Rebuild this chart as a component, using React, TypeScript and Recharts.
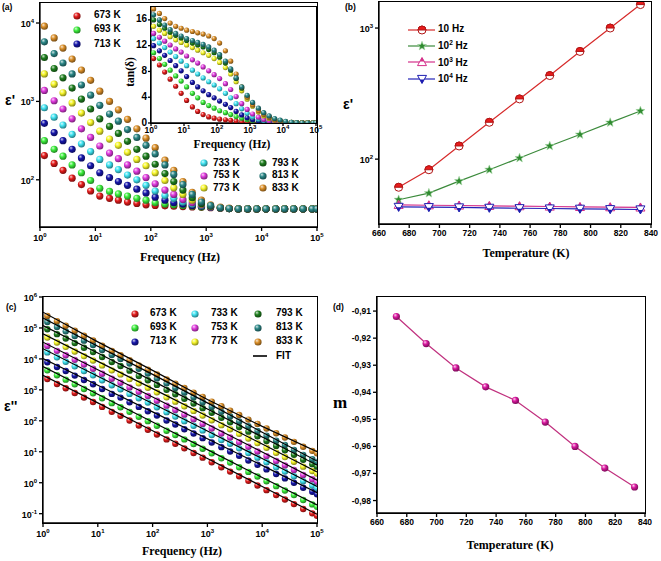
import React from "react";
import { ScatterChart, Scatter, XAxis, YAxis } from "recharts";

// temperatures shared by the four panels
const tempLabels = ["673 K", "693 K", "713 K", "733 K", "753 K", "773 K", "793 K", "813 K", "833 K"];
const tempIds = ["t673", "t693", "t713", "t733", "t753", "t773", "t793", "t813", "t833"];
const tempKelvin = [673, 693, 713, 733, 753, 773, 793, 813, 833];
const tempColors = ["#e31b1b", "#3cee3c", "#1616aa", "#40e4f2", "#e03ade", "#f6f62a", "#1e7f1e", "#2a8686", "#da8e27"];

// measurement frequencies (Hz) for panels (a) and (c)
const freqHz = [
  1.2, 1.8, 2.6, 3.8, 5.6, 8.2, 12, 18, 26, 38, 56, 82, 120, 180, 260, 380, 560, 820,
  1200, 1800, 2600, 3800, 5600, 8200, 12000, 18000, 26000, 38000, 56000, 82000, 100000,
];

// (a) real permittivity eps'
const epsReal673 = [204, 162, 132, 105, 87, 72, 62, 58, 55, 52, 50, 48, 47, 46.5, 46, 45.5, 45, 44.5, 44, 43.5, 43, 42.5, 42.5, 42.5, 42.5, 42.5, 42.5, 42.5, 42.5, 42.5, 42.5];
const epsReal693 = [316, 245, 200, 155, 123, 98, 78, 71, 66, 62, 58, 55, 51, 49, 48, 47, 46, 45, 44.5, 44, 43, 42.5, 42.5, 42.5, 42.5, 42.5, 42.5, 42.5, 42.5, 42.5, 42.5];
const epsReal713 = [525, 400, 316, 245, 190, 151, 123, 107, 95, 85, 76, 68, 60, 55, 51, 49, 47, 46, 45, 44, 43, 42.5, 42.5, 42.5, 42.5, 42.5, 42.5, 42.5, 42.5, 42.5, 42.5];
const epsReal733 = [830, 630, 500, 380, 288, 229, 182, 155, 135, 115, 100, 85, 72, 63, 58, 52, 49, 47, 45, 44, 43, 42.5, 42.5, 42.5, 42.5, 42.5, 42.5, 42.5, 42.5, 42.5, 42.5];
const epsReal753 = [1380, 1020, 800, 600, 447, 347, 270, 219, 186, 155, 129, 107, 89, 74, 65, 56, 51, 48, 45, 44, 43, 42.5, 42.5, 42.5, 42.5, 42.5, 42.5, 42.5, 42.5, 42.5, 42.5];
const epsReal773 = [2240, 1660, 1290, 955, 710, 537, 417, 331, 275, 224, 182, 151, 123, 98, 79, 65, 55, 49, 46, 44, 43, 42.5, 42.5, 42.5, 42.5, 42.5, 42.5, 42.5, 42.5, 42.5, 42.5];
const epsReal793 = [3630, 2630, 2000, 1480, 1070, 800, 600, 480, 390, 310, 245, 200, 158, 120, 95, 74, 59, 50, 46, 44, 43, 42.5, 42.5, 42.5, 42.5, 42.5, 42.5, 42.5, 42.5, 42.5, 42.5];
const epsReal813 = [5750, 4070, 3090, 2240, 1620, 1200, 890, 690, 560, 437, 347, 275, 214, 155, 117, 87, 65, 52, 47, 44, 43, 42.5, 42.5, 42.5, 42.5, 42.5, 42.5, 42.5, 42.5, 42.5, 42.5];
const epsReal833 = [9100, 6460, 4790, 3470, 2510, 1860, 1350, 1000, 780, 590, 447, 340, 257, 178, 132, 95, 69, 55, 48, 45, 43.5, 42.5, 42.5, 42.5, 42.5, 42.5, 42.5, 42.5, 42.5, 42.5, 42.5];
const epsRealSeries = [epsReal673, epsReal693, epsReal713, epsReal733, epsReal753, epsReal773, epsReal793, epsReal813, epsReal833];

// (a) inset tan(delta)
const tan673 = [10.0, 9.0, 7.9, 6.8, 5.7, 4.6, 3.5, 2.5, 1.8, 1.3, 0.95, 0.75, 0.6, 0.5, 0.4, 0.3, 0.22, 0.15, 0.1, 0.07, 0.05, 0.05, 0.05, 0.05, 0.05, 0.05, 0.05, 0.05, 0.05, 0.05, 0.05];
const tan693 = [10.9, 10.0, 9.1, 8.2, 7.3, 6.5, 5.6, 4.6, 3.9, 3.2, 2.7, 2.3, 1.9, 1.6, 1.3, 1.0, 0.75, 0.5, 0.32, 0.2, 0.12, 0.08, 0.05, 0.05, 0.05, 0.05, 0.05, 0.05, 0.05, 0.05, 0.05];
const tan713 = [12.0, 11.2, 10.5, 9.7, 8.9, 8.1, 7.2, 6.3, 5.6, 5.0, 4.4, 3.9, 3.4, 2.9, 2.4, 1.8, 1.25, 0.8, 0.5, 0.3, 0.18, 0.1, 0.06, 0.04, 0.04, 0.04, 0.04, 0.04, 0.04, 0.04, 0.04];
const tan733 = [13.1, 12.4, 11.7, 11.0, 10.3, 9.6, 8.9, 8.2, 7.6, 7.0, 6.4, 5.9, 5.3, 4.6, 3.9, 3.0, 2.2, 1.5, 0.95, 0.6, 0.38, 0.22, 0.13, 0.08, 0.05, 0.05, 0.05, 0.05, 0.05, 0.05, 0.05];
const tan753 = [13.9, 13.3, 12.7, 12.1, 11.5, 11.0, 10.4, 9.8, 9.3, 8.7, 8.1, 7.5, 6.9, 6.1, 5.2, 4.1, 3.0, 2.1, 1.4, 0.9, 0.55, 0.33, 0.2, 0.12, 0.07, 0.05, 0.05, 0.05, 0.05, 0.05, 0.05];
const tan773 = [15.0, 14.4, 13.9, 13.4, 12.9, 12.5, 12.1, 11.7, 11.3, 10.9, 10.5, 10.0, 9.4, 8.6, 7.6, 6.4, 5.0, 3.7, 2.6, 1.7, 1.1, 0.7, 0.42, 0.25, 0.14, 0.08, 0.05, 0.05, 0.05, 0.05, 0.05];
const tan793 = [16.0, 15.3, 14.7, 14.1, 13.6, 13.2, 12.8, 12.4, 12.1, 11.8, 11.4, 10.9, 10.2, 9.3, 8.2, 6.9, 5.4, 4.1, 3.0, 2.1, 1.5, 1.0, 0.62, 0.38, 0.22, 0.12, 0.07, 0.05, 0.05, 0.05, 0.05];
const tan813 = [16.8, 16.0, 15.2, 14.5, 13.9, 13.5, 13.1, 12.8, 12.5, 12.2, 11.8, 11.3, 10.6, 9.6, 8.4, 7.0, 5.6, 4.3, 3.2, 2.3, 1.6, 1.1, 0.7, 0.45, 0.25, 0.12, 0.06, 0.04, 0.04, 0.04, 0.04];
const tan833 = [17.7, 17.0, 16.2, 15.5, 15.0, 14.7, 14.4, 14.2, 14.0, 13.8, 13.5, 13.1, 12.4, 11.2, 9.6, 7.6, 5.6, 4.0, 2.8, 1.9, 1.3, 0.85, 0.5, 0.3, 0.18, 0.1, 0.07, 0.05, 0.05, 0.05, 0.05];
const tanSeries = [tan673, tan693, tan713, tan733, tan753, tan773, tan793, tan813, tan833];

// (c) imaginary permittivity eps'' as log10 values
const epsImLog673 = [3.35, 3.19, 3.05, 2.9, 2.75, 2.61, 2.45, 2.29, 2.16, 2.01, 1.85, 1.71, 1.56, 1.4, 1.26, 1.11, 0.96, 0.81, 0.66, 0.5, 0.36, 0.21, 0.06, -0.09, -0.24, -0.4, -0.54, -0.69, -0.85, -0.99, -1.07];
const epsImLog693 = [3.63, 3.47, 3.33, 3.18, 3.03, 2.89, 2.73, 2.57, 2.44, 2.29, 2.13, 1.99, 1.84, 1.68, 1.54, 1.4, 1.25, 1.1, 0.95, 0.79, 0.65, 0.5, 0.35, 0.2, 0.05, -0.11, -0.25, -0.4, -0.56, -0.7, -0.78];
const epsImLog713 = [3.89, 3.74, 3.61, 3.46, 3.32, 3.18, 3.03, 2.87, 2.75, 2.6, 2.45, 2.31, 2.17, 2.01, 1.88, 1.73, 1.59, 1.44, 1.3, 1.15, 1.01, 0.87, 0.72, 0.58, 0.43, 0.28, 0.14, 0.0, -0.16, -0.29, -0.37];
const epsImLog733 = [4.21, 4.05, 3.91, 3.76, 3.61, 3.47, 3.31, 3.15, 3.02, 2.87, 2.73, 2.59, 2.44, 2.28, 2.14, 1.99, 1.84, 1.69, 1.54, 1.38, 1.26, 1.11, 0.96, 0.81, 0.66, 0.5, 0.36, 0.21, 0.05, -0.09, -0.17];
const epsImLog753 = [4.42, 4.26, 4.12, 3.97, 3.82, 3.68, 3.52, 3.36, 3.23, 3.08, 2.94, 2.8, 2.65, 2.49, 2.35, 2.2, 2.05, 1.9, 1.75, 1.59, 1.46, 1.31, 1.16, 1.01, 0.86, 0.7, 0.56, 0.41, 0.25, 0.11, 0.03];
const epsImLog773 = [4.69, 4.53, 4.39, 4.24, 4.09, 3.95, 3.79, 3.63, 3.5, 3.35, 3.21, 3.07, 2.92, 2.76, 2.62, 2.47, 2.32, 2.17, 2.02, 1.86, 1.73, 1.58, 1.43, 1.28, 1.13, 0.97, 0.83, 0.68, 0.52, 0.38, 0.3];
const epsImLog793 = [4.96, 4.8, 4.66, 4.51, 4.36, 4.22, 4.06, 3.9, 3.77, 3.62, 3.45, 3.31, 3.16, 3.0, 2.86, 2.71, 2.56, 2.41, 2.26, 2.1, 1.95, 1.8, 1.65, 1.5, 1.35, 1.19, 1.05, 0.9, 0.74, 0.6, 0.52];
const epsImLog813 = [5.19, 5.03, 4.89, 4.74, 4.59, 4.45, 4.29, 4.13, 4.0, 3.85, 3.68, 3.53, 3.37, 3.21, 3.06, 2.91, 2.76, 2.6, 2.45, 2.29, 2.14, 1.98, 1.83, 1.67, 1.52, 1.36, 1.22, 1.06, 0.9, 0.76, 0.67];
const epsImLog833 = [5.39, 5.22, 5.07, 4.91, 4.75, 4.6, 4.43, 4.26, 4.12, 3.96, 3.79, 3.65, 3.5, 3.34, 3.2, 3.06, 2.91, 2.77, 2.62, 2.47, 2.33, 2.19, 2.04, 1.9, 1.75, 1.6, 1.46, 1.32, 1.16, 1.03, 0.95];
const epsImSeries = [epsImLog673, epsImLog693, epsImLog713, epsImLog733, epsImLog753, epsImLog773, epsImLog793, epsImLog813, epsImLog833];

// (c) fit lines, log10 values at each decade
const fitFreqHz = [1, 10, 100, 1000, 10000, 100000];
const fitLog673 = [3.47, 2.58, 1.68, 0.78, -0.12, -1.02];
const fitLog693 = [3.75, 2.86, 1.96, 1.07, 0.17, -0.72];
const fitLog713 = [4.01, 3.15, 2.29, 1.42, 0.56, -0.32];
const fitLog733 = [4.33, 3.44, 2.56, 1.67, 0.78, -0.12];
const fitLog753 = [4.54, 3.65, 2.77, 1.89, 0.99, 0.08];
const fitLog773 = [4.81, 3.92, 3.04, 2.15, 1.25, 0.35];
const fitLog793 = [5.08, 4.19, 3.29, 2.38, 1.48, 0.57];
const fitLog813 = [5.32, 4.41, 3.5, 2.58, 1.63, 0.7];
const fitLog833 = [5.51, 4.55, 3.63, 2.69, 1.82, 1.0];
const fitSeries = [fitLog673, fitLog693, fitLog713, fitLog733, fitLog753, fitLog773, fitLog793, fitLog813, fitLog833];

// (b) eps' against temperature at fixed frequencies
const epsAt10Hz = [61, 83, 126, 191, 288, 434, 663, 1000, 1510];
const epsAt100Hz = [49, 55, 68, 83, 102, 126, 154, 190, 233];
const epsAt1kHz = [44.8, 44.5, 44.3, 44.0, 43.8, 43.5, 43.2, 43.0, 42.8];
const epsAt10kHz = [43.2, 43.0, 42.8, 42.5, 42.2, 42.0, 41.8, 41.5, 41.3];

// (d) exponent m against temperature
const exponentM = [-0.912, -0.922, -0.931, -0.938, -0.943, -0.951, -0.96, -0.968, -0.975];

const decadeTicks = [1, 10, 100, 1000, 10000, 100000];
const tempTicks = [660, 680, 700, 720, 740, 760, 780, 800, 820, 840];

const sans = '"Liberation Sans", Arial, sans-serif';
const serif = '"Liberation Serif", "Times New Roman", serif';
const tickStyle = { fontFamily: sans, fontWeight: 700, fontSize: 9, fill: "#000" };
const axisStroke = { stroke: "#000", strokeWidth: 1.3 };

const pts = (xs: number[], ys: number[]) => xs.map((x, i) => ({ x, y: ys[i] }));
const ptsLog = (xs: number[], logs: number[]) => xs.map((x, i) => ({ x, y: Math.pow(10, logs[i]) }));

function mix(hex: string, target: number, t: number) {
  const n = parseInt(hex.slice(1), 16);
  const c = [n >> 16, (n >> 8) & 255, n & 255].map((v) => Math.round(v + (target - v) * t));
  return `rgb(${c.join(",")})`;
}

const ball = (id: string, r: number) => (p: any) =>
  p.cx == null ? <g /> : <circle cx={p.cx} cy={p.cy} r={r} fill={`url(#ball-${id})`} />;

const PowTickX = (props: any) => {
  const { x, y, payload, small } = props;
  const e = Math.round(Math.log10(payload.value));
  return (
    <text x={x} y={y} dy={small ? 7 : 8} textAnchor="middle" style={{ ...tickStyle, fontSize: small ? 8.5 : 9 }}>
      10<tspan dy={-4} fontSize={6}>{e}</tspan>
    </text>
  );
};

const PowTickY = (props: any) => {
  const { x, y, payload } = props;
  const e = Math.round(Math.log10(payload.value));
  return (
    <text x={x} y={y} dy={4} textAnchor="end" style={tickStyle}>
      10<tspan dy={-4} fontSize={6}>{e}</tspan>
    </text>
  );
};

const InsetTickY = (props: any) => {
  const { x, y, payload } = props;
  return (
    <text x={x} y={y} dy={2.5} textAnchor="end" style={{ ...tickStyle, fontSize: 10 }}>
      {payload.value}
    </text>
  );
};

const Frame = ({ x, y, w, h }: { x: number; y: number; w: number; h: number }) => (
  <div
    style={{
      position: "absolute", left: x - 0.75, top: y - 0.75, width: w + 1.5, height: h + 1.5,
      border: "1.5px solid #000", boxSizing: "border-box", pointerEvents: "none",
    }}
  />
);

const Txt = ({ x, y, children, size = 10, font = sans, center = false, rotate = false }: any) => (
  <div
    style={{
      position: "absolute", left: x, top: y, whiteSpace: "nowrap", lineHeight: 1,
      fontFamily: font, fontWeight: 700, fontSize: size, color: "#000",
      transform: rotate ? "translate(-50%,-50%) rotate(-90deg)" : center ? "translateX(-50%)" : undefined,
    }}
  >
    {children}
  </div>
);

const LegendBall = ({ x, y, idx, textX }: { x: number; y: number; idx: number; textX: number }) => (
  <>
    <svg style={{ position: "absolute", left: x - 4, top: y - 4 }} width={8} height={8}>
      <circle cx={4} cy={4} r={3.6} fill={`url(#ball-${tempIds[idx]})`} />
    </svg>
    <Txt x={textX} y={y - 5.5} size={10}>{tempLabels[idx]}</Txt>
  </>
);

// markers for panel (b)
const halfCircle = (cx: number, cy: number) => (
  <g>
    <circle cx={cx} cy={cy} r={4} fill="#fff" stroke="#b01515" strokeWidth={1} />
    <path d={`M${cx - 4},${cy} A4,4 0 0 1 ${cx + 4},${cy} Z`} fill="#e81c1c" stroke="#b01515" strokeWidth={1} />
  </g>
);
const star = (cx: number, cy: number) => {
  let d = "";
  for (let i = 0; i < 10; i++) {
    const a = -Math.PI / 2 + (i * Math.PI) / 5;
    const rad = i % 2 === 0 ? 4.8 : 2.0;
    d += (i ? "L" : "M") + (cx + rad * Math.cos(a)).toFixed(2) + "," + (cy + rad * Math.sin(a)).toFixed(2);
  }
  return <path d={d + "Z"} fill="#2f8a2f" stroke="#a8d8a8" strokeWidth={0.6} />;
};
const upTri = (cx: number, cy: number) => {
  const s = 4.5;
  return (
    <g>
      <polygon points={`${cx},${cy - s} ${cx + s},${cy + 0.8 * s} ${cx - s},${cy + 0.8 * s}`} fill="#fff" stroke="#d4308a" strokeWidth={1} />
      <polygon points={`${cx},${cy - s} ${cx + 0.5 * s},${cy - 0.1 * s} ${cx - 0.5 * s},${cy - 0.1 * s}`} fill="#d4308a" />
    </g>
  );
};
const downTri = (cx: number, cy: number) => {
  const s = 4.5;
  return (
    <g>
      <polygon points={`${cx},${cy + s} ${cx + s},${cy - 0.8 * s} ${cx - s},${cy - 0.8 * s}`} fill="#fff" stroke="#1c1cb0" strokeWidth={1} />
      <polygon points={`${cx},${cy + s} ${cx + 0.5 * s},${cy + 0.1 * s} ${cx - 0.5 * s},${cy + 0.1 * s}`} fill="#1c1cb0" />
    </g>
  );
};
const markerShape = (fn: (cx: number, cy: number) => React.ReactElement) => (p: any) =>
  p.cx == null ? <g /> : fn(p.cx, p.cy);

const bSeries = [
  { name: "10 Hz", values: epsAt10Hz, color: "#d62a2a", marker: halfCircle, exp: "" },
  { name: "10^2 Hz", values: epsAt100Hz, color: "#3b8a3b", marker: star, exp: "2" },
  { name: "10^3 Hz", values: epsAt1kHz, color: "#d4308a", marker: upTri, exp: "3" },
  { name: "10^4 Hz", values: epsAt10kHz, color: "#2323b8", marker: downTri, exp: "4" },
];

const drawOrder = [0, 1, 2, 3, 4, 5, 6, 8, 7];

export default function App() {
  return (
    <div style={{ position: "absolute", left: 0, top: 0, width: 661, height: 561, background: "#fff", overflow: "hidden" }}>
      <svg width={0} height={0} style={{ position: "absolute" }}>
        <defs>
          {tempIds.map((id, i) => (
            <radialGradient key={id} id={`ball-${id}`} cx="40%" cy="38%" r="62%" fx="34%" fy="30%">
              <stop offset="0%" stopColor={mix(tempColors[i], 255, 0.8)} />
              <stop offset="45%" stopColor={tempColors[i]} />
              <stop offset="100%" stopColor={mix(tempColors[i], 0, 0.45)} />
            </radialGradient>
          ))}
          <radialGradient id="ball-m" cx="40%" cy="38%" r="62%" fx="34%" fy="30%">
            <stop offset="0%" stopColor="#ffd0f0" />
            <stop offset="45%" stopColor="#d8189e" />
            <stop offset="100%" stopColor="#7a0a58" />
          </radialGradient>
        </defs>
      </svg>

      {/* (a) eps' vs frequency */}
      <div style={{ position: "absolute", left: 0, top: 0 }}>
        <ScatterChart width={330} height={280} margin={{ top: 3, right: 13, bottom: 0, left: 0 }}>
          <XAxis dataKey="x" type="number" scale="log" domain={[1, 100000]} ticks={decadeTicks} interval={0}
            allowDataOverflow height={53} tickSize={4} tickMargin={2} tick={<PowTickX />} axisLine={axisStroke} tickLine={axisStroke} />
          <YAxis dataKey="y" type="number" scale="log" domain={[25, 18000]} ticks={[100, 1000, 10000]} interval={0}
            allowDataOverflow width={40} tickSize={4} tickMargin={2} tick={<PowTickY />} axisLine={axisStroke} tickLine={axisStroke} />
          {drawOrder.map((i) => (
            <Scatter key={tempIds[i]} name={tempLabels[i]} data={pts(freqHz, epsRealSeries[i])}
              shape={ball(tempIds[i], 3.6)} isAnimationActive={false} />
          ))}
        </ScatterChart>
      </div>
      <Frame x={40} y={3} w={277} h={224} />

      {/* (a) inset tan(delta) */}
      <div style={{ position: "absolute", left: 121, top: 4 }}>
        <ScatterChart width={210} height={150} margin={{ top: 3, right: 15, bottom: 0, left: 0 }}>
          <XAxis dataKey="x" type="number" scale="log" domain={[1, 100000]} ticks={decadeTicks} interval={0}
            allowDataOverflow height={31} tickSize={3} tickMargin={0} tick={<PowTickX small />} axisLine={axisStroke} tickLine={axisStroke} />
          <YAxis dataKey="y" type="number" domain={[0, 18]} ticks={[0, 4, 8, 12, 16]} interval={0}
            allowDataOverflow width={30} tickSize={3} tickMargin={1} tick={<InsetTickY />} axisLine={axisStroke} tickLine={axisStroke} />
          {drawOrder.map((i) => (
            <Scatter key={tempIds[i]} name={tempLabels[i]} data={pts(freqHz, tanSeries[i])}
              shape={ball(tempIds[i], 2.6)} isAnimationActive={false} />
          ))}
        </ScatterChart>
      </div>
      <Frame x={151} y={7} w={165} h={116} />

      <Txt x={2} y={3} size={8.5}>(a)</Txt>
      <Txt x={5} y={93} size={14}>ε'</Txt>
      <Txt x={180} y={251} size={12} font={serif} center>Frequency (Hz)</Txt>
      <Txt x={131} y={72} size={11.5} font={serif} rotate>tan(δ)</Txt>
      <Txt x={232} y={138.5} size={11.5} font={serif} center>Frequency (Hz)</Txt>
      {[0, 1, 2].map((i) => (
        <LegendBall key={i} idx={i} x={77} y={15.5 + i * 14.3} textX={94} />
      ))}
      {[3, 4, 5].map((i, r) => (
        <LegendBall key={i} idx={i} x={204} y={163 + r * 12.6} textX={213} />
      ))}
      {[6, 7, 8].map((i, r) => (
        <LegendBall key={i} idx={i} x={263} y={163 + r * 12.6} textX={272} />
      ))}

      {/* (b) eps' vs temperature */}
      <div style={{ position: "absolute", left: 330, top: 0 }}>
        <ScatterChart width={331} height={280} margin={{ top: 2, right: 10, bottom: 0, left: 0 }}>
          <XAxis dataKey="x" type="number" domain={[660, 840]} ticks={tempTicks} interval={0}
            allowDataOverflow height={56} tickSize={4} tickMargin={2} tick={{ ...tickStyle, fontSize: 8.5 }} axisLine={axisStroke} tickLine={axisStroke} />
          <YAxis dataKey="y" type="number" scale="log" domain={[32, 1580]} ticks={[100, 1000]} interval={0}
            allowDataOverflow width={49} tickSize={4} tickMargin={2} tick={<PowTickY />} axisLine={axisStroke} tickLine={axisStroke} />
          {bSeries.map((s) => (
            <Scatter key={s.name} name={s.name} data={pts(tempKelvin, s.values)}
              line={{ stroke: s.color, strokeWidth: 1.2 }} shape={markerShape(s.marker)} isAnimationActive={false} />
          ))}
        </ScatterChart>
      </div>
      <Frame x={379} y={2} w={272} h={222} />
      <Txt x={345} y={3} size={8.5}>(b)</Txt>
      <Txt x={343} y={97} size={14}>ε'</Txt>
      <Txt x={526} y={247} size={12} font={serif} center>Temperature (K)</Txt>
      {bSeries.map((s, r) => {
        const y = 29.5 + r * 16.4;
        return (
          <React.Fragment key={s.name}>
            <svg style={{ position: "absolute", left: 406, top: y - 6 }} width={32} height={12}>
              <line x1={2} y1={6} x2={29} y2={6} stroke={s.color} strokeWidth={1.2} />
              {s.marker(16, 6)}
            </svg>
            <Txt x={438} y={y - 5.5} size={10}>
              10{s.exp ? <span style={{ fontSize: 6.5, verticalAlign: "4px" }}>{s.exp}</span> : null} Hz
            </Txt>
          </React.Fragment>
        );
      })}

      {/* (c) eps'' vs frequency */}
      <div style={{ position: "absolute", left: 0, top: 280 }}>
        <ScatterChart width={330} height={281} margin={{ top: 17, right: 13, bottom: 0, left: 0 }}>
          <XAxis dataKey="x" type="number" scale="log" domain={[1, 100000]} ticks={decadeTicks} interval={0}
            allowDataOverflow height={38} tickSize={4} tickMargin={2} tick={<PowTickX />} axisLine={axisStroke} tickLine={axisStroke} />
          <YAxis dataKey="y" type="number" scale="log" domain={[0.05, 1000000]}
            ticks={[0.1, 1, 10, 100, 1000, 10000, 100000, 1000000]} interval={0}
            allowDataOverflow width={43} tickSize={4} tickMargin={2} tick={<PowTickY />} axisLine={axisStroke} tickLine={axisStroke} />
          {tempIds.map((id, i) => (
            <Scatter key={id} name={tempLabels[i]} data={ptsLog(freqHz, epsImSeries[i])}
              shape={ball(id, 3.2)} isAnimationActive={false} />
          ))}
          {tempIds.map((id, i) => (
            <Scatter key={`fit-${id}`} name={`FIT ${tempLabels[i]}`} data={ptsLog(fitFreqHz, fitSeries[i])}
              line={{ stroke: "#000", strokeWidth: 1.2 }} shape={() => <g />} isAnimationActive={false} />
          ))}
        </ScatterChart>
      </div>
      <Frame x={43} y={297} w={274} h={226} />
      <Txt x={6} y={303} size={8.5}>(c)</Txt>
      <Txt x={4} y={399} size={14}>ε''</Txt>
      <Txt x={182} y={545} size={12} font={serif} center>Frequency (Hz)</Txt>
      {[0, 1, 2].map((i, r) => (
        <LegendBall key={i} idx={i} x={135} y={313.5 + r * 14} textX={150} />
      ))}
      {[3, 4, 5].map((i, r) => (
        <LegendBall key={i} idx={i} x={195} y={313.5 + r * 14} textX={211} />
      ))}
      {[6, 7, 8].map((i, r) => (
        <LegendBall key={i} idx={i} x={258} y={313.5 + r * 14} textX={276} />
      ))}
      <svg style={{ position: "absolute", left: 252, top: 352 }} width={16} height={8}>
        <line x1={1} y1={4} x2={15} y2={4} stroke="#000" strokeWidth={1.6} />
      </svg>
      <Txt x={276} y={351} size={10}>FIT</Txt>

      {/* (d) exponent m vs temperature */}
      <div style={{ position: "absolute", left: 330, top: 280 }}>
        <ScatterChart width={331} height={281} margin={{ top: 17, right: 16, bottom: 0, left: 0 }}>
          <XAxis dataKey="x" type="number" domain={[660, 840]} ticks={tempTicks} interval={0}
            allowDataOverflow height={48} tickSize={4} tickMargin={2} tick={{ ...tickStyle, fontSize: 8.5 }} axisLine={axisStroke} tickLine={axisStroke} />
          <YAxis dataKey="y" type="number" domain={[-0.9846, -0.9048]}
            ticks={[-0.98, -0.97, -0.96, -0.95, -0.94, -0.93, -0.92, -0.91]} interval={0}
            tickFormatter={(v: number) => v.toFixed(2).replace(".", ",")}
            allowDataOverflow width={47} tickSize={4} tickMargin={2} tick={{ ...tickStyle, fontSize: 8.5 }} axisLine={axisStroke} tickLine={axisStroke} />
          <Scatter name="m" data={pts(tempKelvin, exponentM)} line={{ stroke: "#c0307e", strokeWidth: 1.2 }}
            shape={(p: any) => (p.cx == null ? <g /> : <circle cx={p.cx} cy={p.cy} r={3.6} fill="url(#ball-m)" />)}
            isAnimationActive={false} />
        </ScatterChart>
      </div>
      <Frame x={377} y={297} w={268} h={216} />
      <Txt x={333} y={303} size={8.5}>(d)</Txt>
      <Txt x={333} y={394} size={17} font={serif}>m</Txt>
      <Txt x={510} y={539} size={12} font={serif} center>Temperature (K)</Txt>
    </div>
  );
}
